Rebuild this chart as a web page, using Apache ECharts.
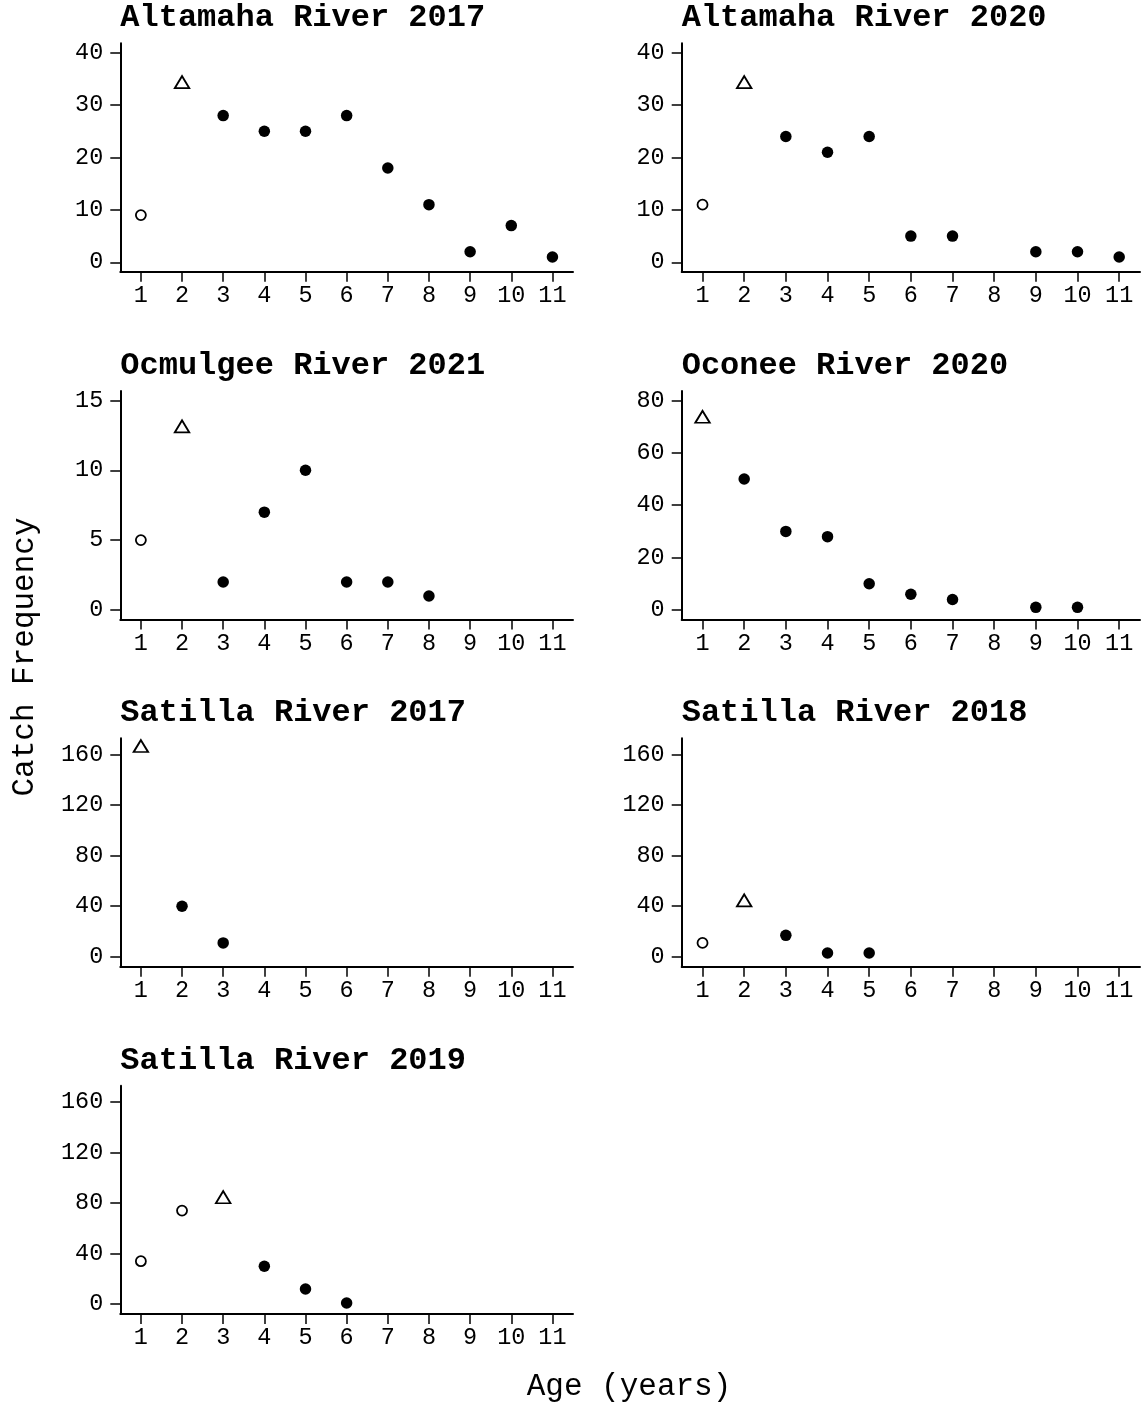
<!DOCTYPE html>
<html>
<head>
<meta charset="utf-8">
<script src="https://cdn.jsdelivr.net/npm/echarts@6/dist/echarts.min.js"></script>
<style>
  html, body { margin: 0; padding: 0; background: #fff; }
  #chart { width: 1144px; height: 1406px; }
</style>
</head>
<body>
<div id="chart"></div>
<script>
// Catch-at-age frequencies by river and sampling year
const ages = [1, 2, 3, 4, 5, 6, 7, 8, 9, 10, 11];

const altamaha2017 = [9, 34, 28, 25, 25, 28, 18, 11, 2, 7, 1];
const altamaha2020 = [11, 34, 24, 21, 24, 5, 5, null, 2, 2, 1];
const ocmulgee2021 = [5, 13, 2, 7, 10, 2, 2, 1, null, null, null];
const oconee2020   = [73, 50, 30, 28, 10, 6, 4, null, 1, 1, null];
const satilla2017  = [165, 40, 11, null, null, null, null, null, null, null, null];
const satilla2018  = [11, 43, 17, 3, 3, null, null, null, null, null, null];
const satilla2019  = [34, 74, 83, 30, 12, 1, null, null, null, null, null];

const panelTitles = [
  'Altamaha River 2017', 'Altamaha River 2020',
  'Ocmulgee River 2021', 'Oconee River 2020',
  'Satilla River 2017', 'Satilla River 2018',
  'Satilla River 2019'
];
const panelCounts = [altamaha2017, altamaha2020, ocmulgee2021, oconee2020,
                     satilla2017, satilla2018, satilla2019];

const ticks40  = [0, 10, 20, 30, 40];
const ticks15  = [0, 5, 10, 15];
const ticks80  = [0, 20, 40, 60, 80];
const ticks160 = [0, 40, 80, 120, 160];
const panelTicks = [ticks40, ticks40, ticks15, ticks80, ticks160, ticks160, ticks160];

const xLabel = 'Age (years)';
const yLabel = 'Catch Frequency';

// ---- layout ----
const FONT = '"Liberation Mono", "Courier New", monospace';
const colBoxes = [{ left: 120.3, width: 452.7 }, { left: 681.7, width: 458.3 }];
const rowTops = [43.3, 391, 738.3, 1085.7];
const gridH = 228.4;

function yRange(ticks, idx) {
  const hi = ticks[ticks.length - 1];
  if (idx >= 4) return { min: -7.8, max: 172.7 };   // shared Satilla scale
  return { min: -0.045 * hi, max: hi * 1.045 };
}

const grids = [], xAxes = [], yAxes = [], series = [], graphics = [];

panelCounts.forEach((counts, i) => {
  const col = colBoxes[i % 2];
  const top = rowTops[Math.floor(i / 2)];
  grids.push({ left: col.left, top: top, width: col.width, height: gridH, containLabel: false });

  xAxes.push({
    gridIndex: i, type: 'value', min: 0.5, max: 11.5,
    axisLine: { show: true, onZero: false, lineStyle: { color: '#000', width: 2 } },
    axisTick: { show: true, inside: false, length: 10, customValues: ages,
                lineStyle: { color: '#000', width: 1.5 } },
    axisLabel: { show: true, customValues: ages, margin: 12, color: '#000',
                 fontFamily: FONT, fontSize: 23.5 },
    splitLine: { show: false }
  });

  const r = yRange(panelTicks[i], i);
  yAxes.push({
    gridIndex: i, type: 'value', min: r.min, max: r.max,
    axisLine: { show: true, onZero: false, lineStyle: { color: '#000', width: 2 } },
    axisTick: { show: true, inside: false, length: 10, customValues: panelTicks[i],
                lineStyle: { color: '#000', width: 1.5 } },
    axisLabel: { show: true, customValues: panelTicks[i], margin: 17, color: '#000',
                 fontFamily: FONT, fontSize: 23.5 },
    splitLine: { show: false }
  });

  // peak age (triangle); younger ages open circles, older ages filled circles
  let peak = 0;
  counts.forEach((v, k) => { if (v != null && v > counts[peak]) peak = k; });
  const pre = [], top1 = [], post = [];
  counts.forEach((v, k) => {
    if (v == null) return;
    const pt = [ages[k], v];
    if (k < peak) pre.push(pt); else if (k === peak) top1.push(pt); else post.push(pt);
  });

  series.push({
    type: 'scatter', xAxisIndex: i, yAxisIndex: i, data: pre,
    symbol: 'circle', symbolSize: 10,
    itemStyle: { color: '#fff', borderColor: '#000', borderWidth: 1.8, opacity: 1 },
    silent: true, animation: false
  });
  series.push({
    type: 'scatter', xAxisIndex: i, yAxisIndex: i, data: top1,
    symbol: 'triangle', symbolSize: [14.5, 12], symbolOffset: [0, -2],
    itemStyle: { color: '#fff', borderColor: '#000', borderWidth: 1.8, opacity: 1 },
    silent: true, animation: false
  });
  series.push({
    type: 'scatter', xAxisIndex: i, yAxisIndex: i, data: post,
    symbol: 'circle', symbolSize: 11.5,
    itemStyle: { color: '#000', borderWidth: 0, opacity: 1 },
    silent: true, animation: false
  });

  graphics.push({
    type: 'text', x: col.left, y: top - 25,
    style: { text: panelTitles[i], fill: '#000', align: 'left', verticalAlign: 'middle',
             font: 'bold 32px ' + FONT }
  });
});

graphics.push({
  type: 'text', x: 629, y: 1387,
  style: { text: xLabel, fill: '#000', align: 'center', verticalAlign: 'middle',
           font: '31px ' + FONT }
});
graphics.push({
  type: 'text', x: 25, y: 657, rotation: Math.PI / 2,
  style: { text: yLabel, fill: '#000', align: 'center', verticalAlign: 'middle',
           font: '31px ' + FONT }
});

const chart = echarts.init(document.getElementById('chart'), null, { renderer: 'canvas' });
chart.setOption({
  backgroundColor: '#fff',
  animation: false,
  grid: grids,
  xAxis: xAxes,
  yAxis: yAxes,
  series: series,
  graphic: graphics
});
</script>
</body>
</html>
